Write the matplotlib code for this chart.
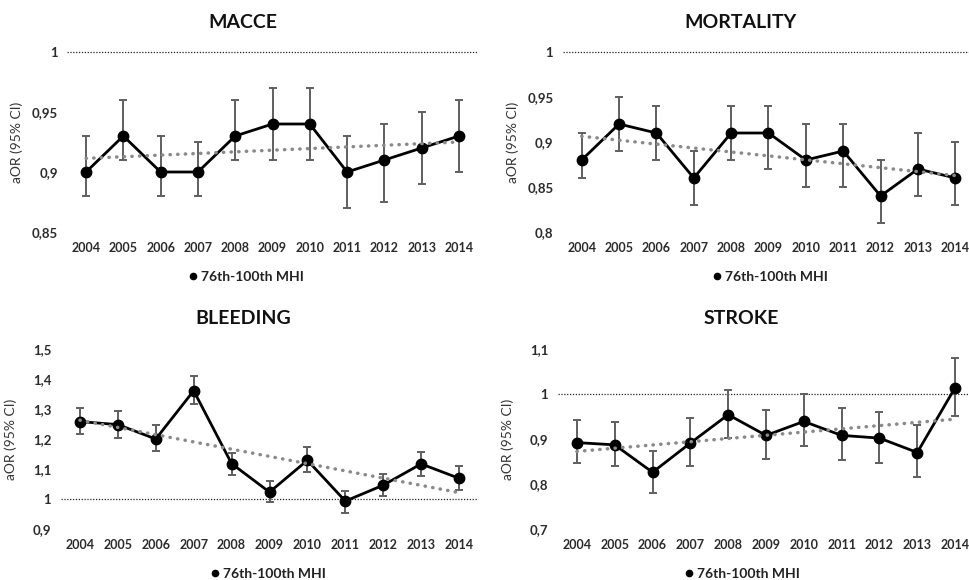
import matplotlib
matplotlib.use("Agg")
import matplotlib.pyplot as plt
from matplotlib.lines import Line2D
import numpy as np

plt.rcParams['font.family'] = ['Lato', 'DejaVu Sans']

years = ['2004', '2005', '2006', '2007', '2008', '2009', '2010', '2011', '2012', '2013', '2014']
legend_label = '76th-100th MHI'

macce = [0.90, 0.93, 0.90, 0.90, 0.93, 0.94, 0.94, 0.90, 0.91, 0.92, 0.93]
macce_lo = [0.88, 0.91, 0.88, 0.88, 0.91, 0.91, 0.91, 0.87, 0.875, 0.89, 0.90]
macce_hi = [0.93, 0.96, 0.93, 0.925, 0.96, 0.97, 0.97, 0.93, 0.94, 0.95, 0.96]
macce_yticks = [0.85, 0.9, 0.95, 1.0]
macce_ylabels = ['0,85', '0,9', '0,95', '1']

mort = [0.88, 0.92, 0.91, 0.86, 0.91, 0.91, 0.88, 0.89, 0.84, 0.87, 0.86]
mort_lo = [0.86, 0.89, 0.88, 0.83, 0.88, 0.87, 0.85, 0.85, 0.81, 0.84, 0.83]
mort_hi = [0.91, 0.95, 0.94, 0.89, 0.94, 0.94, 0.92, 0.92, 0.88, 0.91, 0.90]
mort_yticks = [0.8, 0.85, 0.9, 0.95, 1.0]
mort_ylabels = ['0,8', '0,85', '0,9', '0,95', '1']

bleed = [1.258, 1.248, 1.20, 1.361, 1.118, 1.023, 1.129, 0.993, 1.046, 1.117, 1.069]
bleed_lo = [1.216, 1.205, 1.16, 1.316, 1.08, 0.989, 1.09, 0.955, 1.01, 1.077, 1.03]
bleed_hi = [1.303, 1.294, 1.245, 1.411, 1.155, 1.061, 1.172, 1.028, 1.083, 1.156, 1.109]
bleed_yticks = [0.9, 1.0, 1.1, 1.2, 1.3, 1.4, 1.5]
bleed_ylabels = ['0,9', '1', '1,1', '1,2', '1,3', '1,4', '1,5']

stroke = [0.892, 0.887, 0.826, 0.891, 0.954, 0.908, 0.939, 0.908, 0.902, 0.870, 1.014]
stroke_lo = [0.847, 0.840, 0.781, 0.841, 0.902, 0.856, 0.884, 0.853, 0.847, 0.815, 0.952]
stroke_hi = [0.942, 0.937, 0.873, 0.946, 1.010, 0.965, 0.999, 0.968, 0.960, 0.931, 1.079]
stroke_yticks = [0.7, 0.8, 0.9, 1.0, 1.1]
stroke_ylabels = ['0,7', '0,8', '0,9', '1', '1,1']

W, H = 970, 580
fig = plt.figure(figsize=(9.7, 5.8), dpi=100)


def px_axes(x0, x1, ytop, ybot):
    return fig.add_axes([x0 / W, 1 - ybot / H, (x1 - x0) / W, (ybot - ytop) / H])


def panel(ax, title, vals, lo, hi, yticks, ylabels, title_xy, leg_xy):
    x = np.arange(len(years))
    vals = np.array(vals)
    err = [vals - np.array(lo), np.array(hi) - vals]
    ax.axhline(1.0, color='#222222', lw=0.9, ls=(0, (1, 1.3)), zorder=1, clip_on=False)
    ax.errorbar(x, vals, yerr=err, fmt='none', ecolor='#5f5f5f', elinewidth=1.4,
                capsize=3, capthick=1.4, zorder=2)
    ax.plot(x, vals, color='black', lw=2.0, marker='o', ms=7.5, zorder=3)
    # linear trendline
    k, b = np.polyfit(x, vals, 1)
    ax.plot(x, k * x + b, color='#8a8a8a', lw=2.5, ls=(0, (0.1, 2.1)),
            dash_capstyle='round', zorder=4)
    ax.set_xlim(-0.5, 10.5)
    ax.set_ylim(yticks[0], yticks[-1])
    ax.set_xticks(x)
    ax.set_xticklabels(years, fontsize=9, fontweight='bold', color='#2b2b2b')
    ax.set_yticks(yticks)
    ax.set_yticklabels(ylabels, fontsize=9.5, fontweight='bold', color='#2b2b2b')
    ax.tick_params(length=0, pad=7)
    for s in ax.spines.values():
        s.set_visible(False)
    ax.set_ylabel('aOR (95% CI)', fontsize=10, color='#333333')
    bb = ax.get_position()
    ax.yaxis.set_label_coords(-44 / (bb.width * W), 0.5)
    fig.text(title_xy[0] / W, 1 - title_xy[1] / H, title, ha='center', va='center',
             fontsize=14, fontweight='bold', color='#111111')
    h = Line2D([], [], color='black', marker='o', ms=4.5, ls='none')
    fig.legend(handles=[h], labels=[legend_label], loc='center',
               bbox_to_anchor=(leg_xy[0] / W, 1 - leg_xy[1] / H), frameon=False,
               handletextpad=0.1, handlelength=1,
               prop={'size': 10, 'weight': 'bold'}, labelcolor='#222222')


ax1 = px_axes(67.4, 477.6, 52, 232)
panel(ax1, 'MACCE', macce, macce_lo, macce_hi, macce_yticks, macce_ylabels, (243, 22), (245, 277))

ax2 = px_axes(563, 974, 52, 232)
panel(ax2, 'MORTALITY', mort, mort_lo, mort_hi, mort_yticks, mort_ylabels, (741, 22), (769, 277))

ax3 = px_axes(61, 478, 349, 529)
panel(ax3, 'BLEEDING', bleed, bleed_lo, bleed_hi, bleed_yticks, bleed_ylabels, (243, 319), (267, 574))

ax4 = px_axes(558, 974, 349, 529)
panel(ax4, 'STROKE', stroke, stroke_lo, stroke_hi, stroke_yticks, stroke_ylabels, (741, 319), (741, 574))

fig.savefig('out.png', dpi=100)
